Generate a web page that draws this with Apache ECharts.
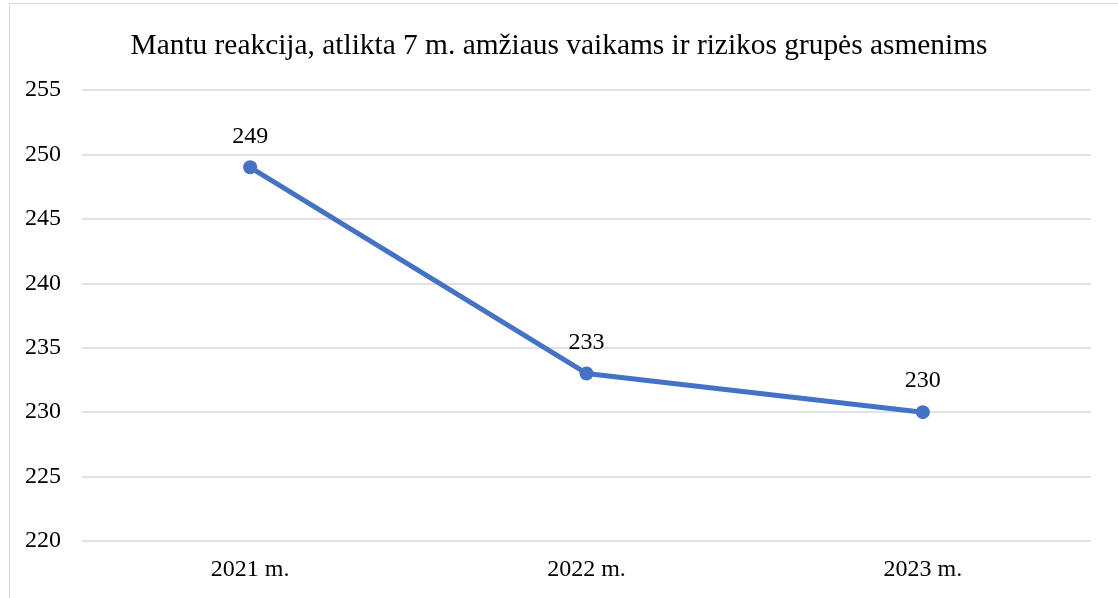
<!DOCTYPE html>
<html>
<head>
<meta charset="utf-8">
<script src="https://cdn.jsdelivr.net/npm/echarts@6/dist/echarts.min.js"></script>
<style>
  html, body { margin: 0; padding: 0; background: #fff; }
  #main { width: 1118px; height: 598px; }
</style>
</head>
<body>
<div id="main"></div>
<script>
var years = ['2021 m.', '2022 m.', '2023 m.'];
var counts = [249, 233, 230];

var myChart = echarts.init(document.getElementById('main'));

var option = {
    backgroundColor: '#fff',
    title: {
        text: 'Mantu reakcija, atlikta 7 m. amžiaus vaikams ir rizikos grupės asmenims',
        left: 'center',
        top: 27,
        textStyle: {
            fontFamily: 'Liberation Serif',
            fontWeight: 'normal',
            fontSize: 29.4,
            color: '#000'
        }
    },
    graphic: [{
        type: 'rect',
        shape: { x: 9.5, y: 3.5, width: 1130, height: 620 },
        style: { fill: 'none', stroke: '#d9d9d9', lineWidth: 1 },
        silent: true
    }],
    grid: {
        left: 82,
        right: 27,
        top: 90,
        bottom: 57
    },
    xAxis: {
        type: 'category',
        data: years,
        axisLine: { show: false },
        axisTick: { show: false },
        axisLabel: {
            margin: 17,
            fontFamily: 'Liberation Serif',
            fontSize: 24,
            color: '#000'
        }
    },
    yAxis: {
        type: 'value',
        min: 220,
        max: 255,
        interval: 5,
        axisLine: { show: false },
        axisTick: { show: false },
        axisLabel: {
            margin: 57,
            align: 'left',
            fontFamily: 'Liberation Serif',
            fontSize: 24,
            color: '#000'
        },
        splitLine: { lineStyle: { color: '#d9d9d9', width: 1.5 } }
    },
    series: [{
        name: 'Mantu reakcija',
        type: 'line',
        data: counts,
        symbol: 'circle',
        symbolSize: 14,
        lineStyle: { color: '#4472C4', width: 5 },
        itemStyle: { color: '#4472C4' },
        label: {
            show: true,
            position: 'top',
            distance: 12,
            fontFamily: 'Liberation Serif',
            fontSize: 24,
            color: '#000'
        }
    }]
};

myChart.setOption(option);
</script>
</body>
</html>
